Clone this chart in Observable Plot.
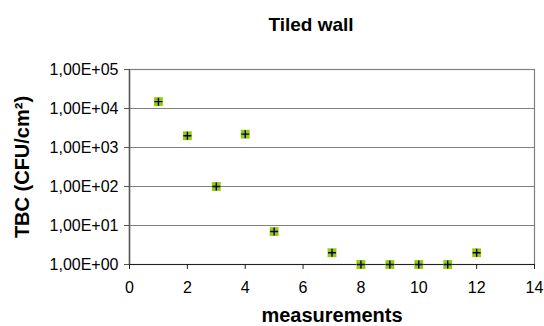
<!DOCTYPE html>
<html>
<head>
<meta charset="utf-8">
<script src="https://cdn.jsdelivr.net/npm/d3@7"></script>
<script src="https://cdn.jsdelivr.net/npm/@observablehq/plot@0.6"></script>
<style>
  html, body { margin: 0; padding: 0; background: #fff; }
  #chart svg { display: block; }
</style>
</head>
<body>
<div id="chart"></div>
<script>
const title = "Tiled wall";
const xLabel = "measurements";
const yLabel = "TBC (CFU/cm²)";
const measurements = [1, 2, 3, 4, 5, 7, 8, 9, 10, 11, 12];
const tbc = [15000, 2000, 100, 2200, 7, 2, 1, 1, 1, 1, 2];
const xTicks = [0, 2, 4, 6, 8, 10, 12, 14];
const yTicks = [1, 10, 100, 1000, 10000, 100000];

const data = measurements.map((m, i) => ({x: m, y: tbc[i]}));
const fmtY = d => "1,00E+" + String(Math.round(Math.log10(d))).padStart(2, "0");

const chart = Plot.plot({
  width: 544,
  height: 326,
  marginLeft: 129,
  marginRight: 10,
  marginTop: 69,
  marginBottom: 62,
  style: {fontFamily: "'Liberation Sans', Arial, sans-serif", fontSize: "16px", color: "#000", background: "#fff"},
  x: {domain: [0, 14], ticks: xTicks, tickFormat: d => String(d), label: null},
  y: {type: "log", domain: [1, 100000], ticks: yTicks, tickFormat: fmtY, label: null},
  marks: [
    Plot.ruleY(yTicks, {stroke: "#808080", strokeWidth: 1.2}),
    Plot.frame({stroke: "#808080", strokeWidth: 1.2}),
    Plot.ruleX([0], {stroke: "#555", strokeWidth: 1.5}),
    Plot.ruleY([1], {stroke: "#222", strokeWidth: 1.2}),
    Plot.axisX({ticks: xTicks, tickFormat: d => String(d), tickSize: 5, tickPadding: 12, stroke: "#222", label: null}),
    Plot.axisY({ticks: yTicks, tickFormat: fmtY, tickSize: 5, tickPadding: 6, stroke: "#555", label: null}),
    Plot.dot(data, {x: "x", y: "y", symbol: "square", r: 5, fill: "#99CC00", stroke: "none"}),
    Plot.dot(data, {x: "x", y: "y", symbol: "plus", r: 2.7, stroke: "#000066", strokeWidth: 1.4}),
    Plot.text([title], {frameAnchor: "top", dx: -21, dy: -52, fontSize: 19, fontWeight: "bold", fill: "#000"}),
    Plot.text([xLabel], {frameAnchor: "bottom", dy: 57, fontSize: 20, fontWeight: "bold", fill: "#000"}),
    Plot.text([yLabel], {frameAnchor: "left", dx: -107, rotate: -90, textAnchor: "middle", fontSize: 20, fontWeight: "bold", fill: "#000"})
  ]
});
document.getElementById("chart").appendChild(chart);
</script>
</body>
</html>
